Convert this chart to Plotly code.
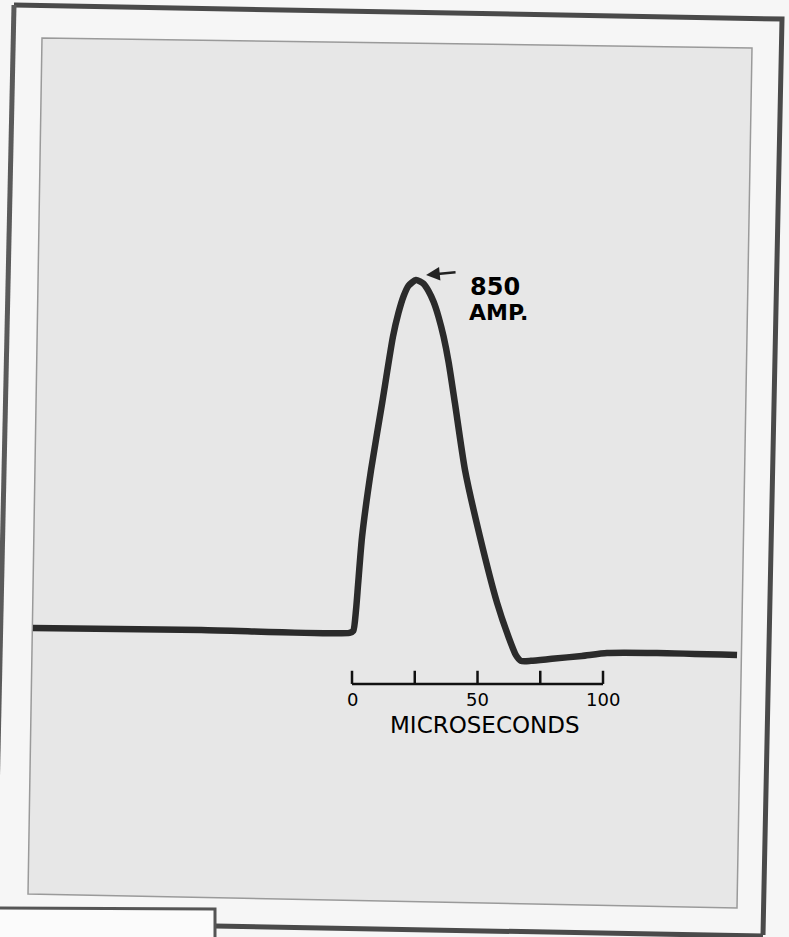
import plotly.graph_objects as go

# ---- data (time in microseconds, current in amperes) ----
time_us = [-127.1, -60.0, -1.0, 0.5, 1.6, 2.4, 4.0, 7.6, 12.0, 16.3, 18.5, 20.5,
           22.5, 25.5, 28.5, 30.5, 32.5, 34.5, 36.5, 38.5, 41.0, 45.0, 51.0,
           57.8, 62.5, 65.3, 67.3, 71.3, 79.7, 91.6, 101.6, 121.5, 153.4]
current_a = [5, 0, -7, -2, 49, 109, 226, 389, 551, 712, 770, 810,
             836, 850, 841, 823, 797, 760, 712, 650, 551, 389, 226,
             66, -19, -61, -75, -75, -70, -63, -56, -56, -61]

scale_ticks = [0, 25, 50, 75, 100]
scale_labels = ["0", "50", "100"]
scale_label_pos = [0, 50, 100]
scale_bar_level = -131
scale_tick_top = -99
scale_title = "MICROSECONDS"
peak_value = 850
peak_time = 25.5
peak_label = ["850", "AMP."]

W, H = 789, 937
X_RANGE = [-140.24, 174.10]
Y_RANGE = [-745.6, 1530.0]


def px(x, y):
    return x / W, 1 - y / H


def path(points, close=True):
    s = ""
    for i, (x, y) in enumerate(points):
        u, v = px(x, y)
        s += ("M" if i == 0 else "L") + f"{u:.5f},{v:.5f} "
    if close:
        s += "Z"
    return s


fig = go.Figure()

# oscillogram trace
fig.add_trace(go.Scatter(x=time_us, y=current_a, mode="lines",
                         line=dict(color="#2b2b2b", width=6.5, shape="spline", smoothing=0.6),
                         hoverinfo="skip", showlegend=False))

# time scale bar
sx, sy = [], []
sx += [scale_ticks[0], scale_ticks[-1], None]
sy += [scale_bar_level, scale_bar_level, None]
for t in scale_ticks:
    sx += [t, t, None]
    sy += [scale_bar_level, scale_tick_top, None]
fig.add_trace(go.Scatter(x=sx, y=sy, mode="lines",
                         line=dict(color="#111111", width=2.5),
                         hoverinfo="skip", showlegend=False))

annotations = []
for lab, pos in zip(scale_labels, scale_label_pos):
    annotations.append(dict(x=pos, y=-170, xref="x", yref="y", text=lab,
                            showarrow=False,
                            font=dict(family="DejaVu Sans", size=18, color="#000")))
annotations.append(dict(x=53, y=-230, xref="x", yref="y", text=scale_title,
                        showarrow=False,
                        font=dict(family="DejaVu Sans", size=23, color="#000")))
# peak label
annotations.append(dict(x=46.2, y=833, xref="x", yref="y", text=peak_label[0],
                        showarrow=False, xanchor="left", yanchor="middle",
                        font=dict(family="DejaVu Sans", size=24, color="#000",
                                  weight="bold")))
annotations.append(dict(x=46.0, y=770, xref="x", yref="y", text=peak_label[1],
                        showarrow=False, xanchor="left", yanchor="middle",
                        font=dict(family="DejaVu Sans", size=22, color="#000",
                                  weight="bold")))
# arrow pointing at peak
annotations.append(dict(x=peak_time + 4.0, y=peak_value + 12, xref="x", yref="y",
                        text="", showarrow=True, ax=31, ay=-3,
                        arrowhead=2, arrowsize=1.1, arrowwidth=2.5,
                        arrowcolor="#222"))

shapes = [
    # inner grey photo panel (slightly rotated)
    dict(type="path", xref="paper", yref="paper",
         path=path([(42, 38), (752, 48), (737, 908), (28, 894)]),
         fillcolor="#e7e7e7", line=dict(color="#9a9a9a", width=1.5), layer="below"),
    # outer frame
    dict(type="path", xref="paper", yref="paper",
         path=path([(14, 5), (782, 19), (763, 935)], close=False),
         fillcolor="rgba(0,0,0,0)", line=dict(color="#4a4a4a", width=5), layer="below"),
    dict(type="path", xref="paper", yref="paper",
         path=path([(14, 5), (-6, 940)], close=False),
         fillcolor="rgba(0,0,0,0)", line=dict(color="#5a5a5a", width=5), layer="below"),
    dict(type="path", xref="paper", yref="paper",
         path=path([(215, 926), (763, 936)], close=False),
         fillcolor="rgba(0,0,0,0)", line=dict(color="#4a4a4a", width=5), layer="below"),
    # bottom-left overlapping sheet
    dict(type="path", xref="paper", yref="paper",
         path=path([(-5, 908), (215, 909), (215, 945), (-5, 945)]),
         fillcolor="#fbfbfb", line=dict(color="#555555", width=3), layer="below"),
]

fig.update_layout(
    width=W, height=H,
    margin=dict(l=0, r=0, t=0, b=0, pad=0),
    paper_bgcolor="#f6f6f6",
    plot_bgcolor="rgba(0,0,0,0)",
    xaxis=dict(range=X_RANGE, visible=False, fixedrange=True),
    yaxis=dict(range=Y_RANGE, visible=False, fixedrange=True),
    shapes=shapes,
    annotations=annotations,
    showlegend=False,
)

fig.write_html("out.html", config={"displayModeBar": False},
               post_script="document.body.style.margin='0';")
